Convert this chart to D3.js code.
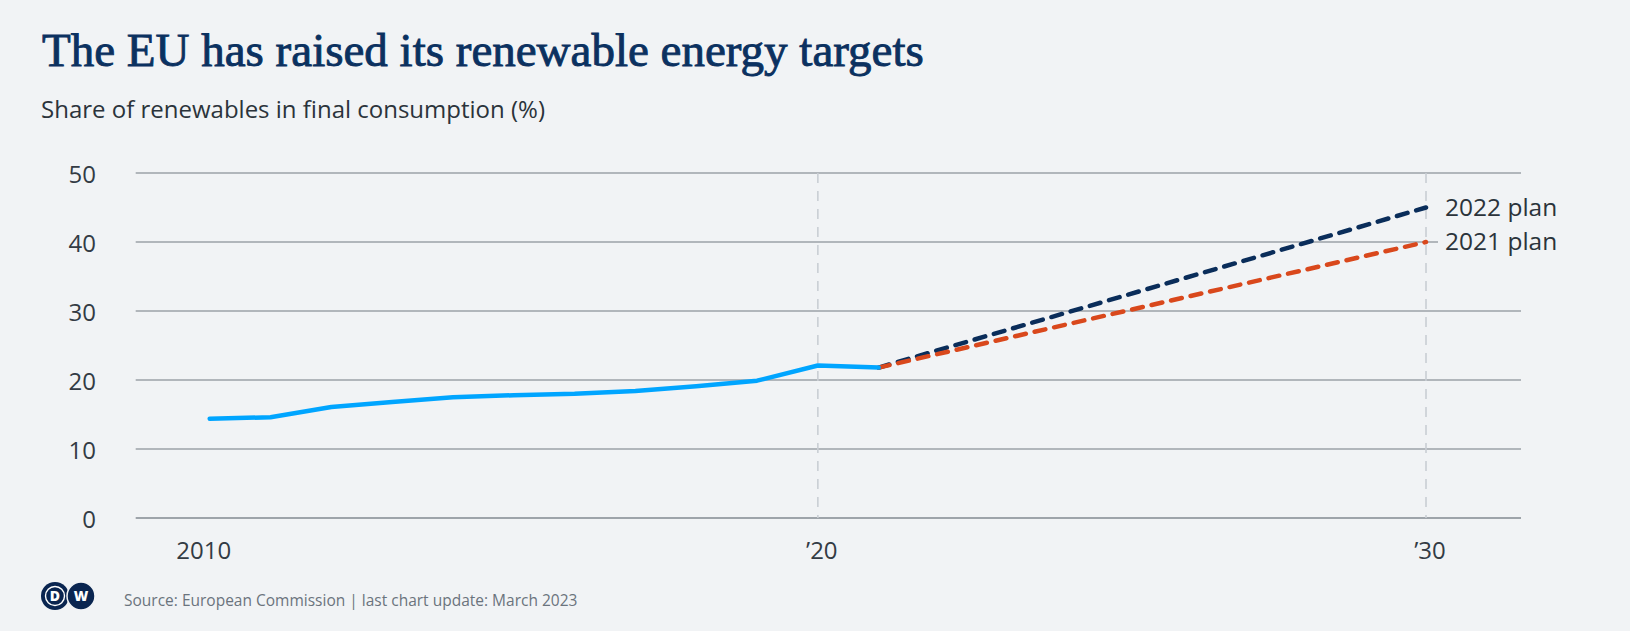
<!DOCTYPE html>
<html>
<head>
<meta charset="utf-8">
<script src="https://cdn.jsdelivr.net/npm/d3@7"></script>
<style>
  html, body { margin: 0; padding: 0; background: #f1f3f5; }
  svg { display: block; }
</style>
</head>
<body>
<svg id="chart" width="1630" height="631"></svg>
<script>
// ---- data ----
const years = [2010, 2011, 2012, 2013, 2014, 2015, 2016, 2017, 2018, 2019, 2020, 2021];
const shares = [14.4, 14.6, 16.1, 16.8, 17.5, 17.8, 18.0, 18.4, 19.1, 19.9, 22.1, 21.8];
const planNames = ["2022 plan", "2021 plan"];
const planYears = [2021, 2030];
const plan2022 = [21.8, 45];
const plan2021 = [21.8, 40];
const yTicks = [0, 10, 20, 30, 40, 50];
const xTickYears = [2010, 2020, 2030];
const xTickLabels = ["2010", "\u201920", "\u201930"];
const refYears = [2020, 2030];

const title = "The EU has raised its renewable energy targets";
const subtitle = "Share of renewables in final consumption (%)";
const source = "Source: European Commission | last chart update: March 2023";

// ---- setup ----
const svg = d3.select("#chart");
const W = 1630, H = 631;
const bg = "#f1f3f5";
svg.append("rect").attr("width", W).attr("height", H).attr("fill", bg);

const sans = "'Open Sans', 'Noto Sans', sans-serif";

const x = d3.scaleLinear().domain([2010, 2030]).range([209.7, 1426]);
const y = d3.scaleLinear().domain([0, 50]).range([518, 173]);
const gridX0 = 135.7, gridX1 = 1521;

// title
svg.append("text").attr("x", 42).attr("y", 66)
  .attr("font-family", "'Liberation Serif', 'DejaVu Serif', serif")
  .attr("font-size", 47).attr("fill", "#0b3160")
  .attr("stroke", "#0b3160").attr("stroke-width", 0.9)
  .text(title);

svg.append("text").attr("x", 41).attr("y", 118)
  .attr("font-family", sans).attr("font-size", 24).attr("fill", "#2b333b")
  .text(subtitle);

// gridlines
const grid = svg.append("g");
grid.selectAll("line").data(yTicks).join("line")
  .attr("x1", gridX0).attr("x2", gridX1)
  .attr("y1", d => y(d)).attr("y2", d => y(d))
  .attr("stroke", d => d === 0 ? "#9ea4aa" : "#b1b6bb")
  .attr("stroke-width", 2);

// y labels
svg.append("g").selectAll("text").data(yTicks).join("text")
  .attr("x", 96).attr("y", d => y(d)).attr("dy", "0.41em")
  .attr("text-anchor", "end")
  .attr("font-family", sans).attr("font-size", 24).attr("fill", "#333b44")
  .text(d => d);

// vertical dashed reference lines
svg.append("g").selectAll("line").data(refYears).join("line")
  .attr("x1", d => x(d)).attr("x2", d => x(d))
  .attr("y1", y(50)).attr("y2", y(0))
  .attr("stroke", "#c9ced4").attr("stroke-width", 1.6)
  .attr("stroke-dasharray", "10,8");

// x labels
svg.append("g").selectAll("text").data(xTickYears).join("text")
  .attr("x", d => x(d)).attr("y", 559)
  .attr("dx", (d, i) => i === 0 ? -6 : 4)
  .attr("text-anchor", "middle")
  .attr("font-family", sans).attr("font-size", 24).attr("fill", "#333b44")
  .text((d, i) => xTickLabels[i]);

// plan lines
const line = d3.line().x(d => x(d[0])).y(d => y(d[1]));
const plans = [
  { name: planNames[0], vals: plan2022, color: "#0a2d5a" },
  { name: planNames[1], vals: plan2021, color: "#d9481c" }
];
plans.forEach(p => {
  svg.append("path")
    .datum(planYears.map((yr, i) => [yr, p.vals[i]]))
    .attr("d", line).attr("fill", "none")
    .attr("stroke", p.color).attr("stroke-width", 4.5)
    .attr("stroke-linecap", "round")
    .attr("stroke-dasharray", "11,9");
});

// actual line
svg.append("path")
  .datum(years.map((yr, i) => [yr, shares[i]]))
  .attr("d", line).attr("fill", "none")
  .attr("stroke", "#00a5ff").attr("stroke-width", 4.5)
  .attr("stroke-linecap", "round").attr("stroke-linejoin", "round");

// plan labels (with background to mask gridline)
plans.forEach(p => {
  const lx = x(2030) + 19, ly = y(p.vals[1]);
  svg.append("rect").attr("x", lx - 7).attr("y", ly - 9).attr("width", 125).attr("height", 18)
    .attr("fill", bg);
  svg.append("text").attr("x", lx).attr("y", ly).attr("dy", "0.33em")
    .attr("font-family", sans).attr("font-size", 24.5).attr("fill", "#2b333b")
    .text(p.name);
});

// footer logo
const logo = svg.append("g");
[[55, "D"], [81, "W"]].forEach(([cx, t], i) => {
  logo.append("circle").attr("cx", cx).attr("cy", 596).attr("r", 14)
    .attr("fill", "#0a2550").attr("stroke", bg).attr("stroke-width", i ? 1.5 : 0);
});
logo.append("circle").attr("cx", 55).attr("cy", 596).attr("r", 9.5)
  .attr("fill", "none").attr("stroke", "#ffffff").attr("stroke-width", 1.4);
[[55, "D"], [81, "W"]].forEach(([cx, t]) => {
  logo.append("text").attr("x", cx).attr("y", 596).attr("dy", "0.36em")
    .attr("text-anchor", "middle").attr("font-family", sans)
    .attr("font-weight", 800).attr("font-size", 14).attr("fill", "#ffffff").text(t);
});

svg.append("text").attr("x", 124).attr("y", 606)
  .attr("font-family", sans).attr("font-size", 15.5).attr("fill", "#6b747d")
  .text(source);
</script>
</body>
</html>
